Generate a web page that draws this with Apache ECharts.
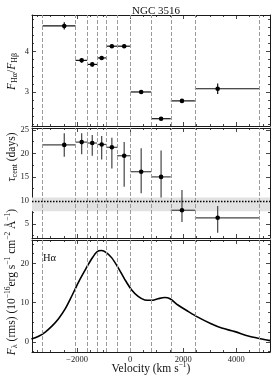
<!DOCTYPE html>
<html><head><meta charset="utf-8">
<script src="https://cdn.jsdelivr.net/npm/echarts@6/dist/echarts.min.js"></script>
<style>html,body{margin:0;padding:0;background:#fff}#c{width:274px;height:380px}</style>
</head><body><div id="c"></div>
<script>
// ---- data ----
const title = 'NGC 3516';
const binEdges = [-3300, -2060, -1620, -1250, -890, -490, 20, 790, 1530, 2440, 4870];
const binCenters = [-2484, -1828, -1429, -1074, -690, -226, 415, 1165, 1952, 3298];
const ratio = [4.63, 3.78, 3.68, 3.84, 4.13, 4.13, 3.00, 2.34, 2.78, 3.08];
const ratioErr = [0.09, 0.05, 0.05, 0.05, 0.04, 0.04, 0.05, 0.04, 0.04, 0.13];
const lag = [21.8, 22.4, 22.2, 21.9, 21.3, 19.5, 16.1, 15.0, 7.9, 6.3];
const lagErrHi = [2.5, 1.9, 1.7, 1.8, 2.0, 2.9, 5.0, 5.6, 4.3, 2.5];
const lagErrLo = [2.5, 2.6, 2.7, 3.2, 4.5, 6.6, 4.6, 4.4, 2.5, 3.2];
const contLag = 9.85, contLagLo = 7.7, contLagHi = 10.6;
const velocity = [-3720, -3450, -3200, -2950, -2700, -2450, -2200, -1950, -1700, -1450, -1250, -1080, -900, -700, -450, -200, 50, 300, 550, 800, 1050, 1300, 1500, 1800, 2200, 2550, 3050, 3450, 3950, 4450, 4900, 5270];
const flux = [0.7, 1.4, 2.5, 4.0, 5.9, 8.4, 11.7, 15.2, 18.3, 21.2, 23.0, 23.3, 22.8, 21.5, 18.9, 15.9, 13.3, 11.6, 10.7, 10.6, 11.0, 11.3, 11.0, 9.4, 7.7, 6.3, 4.6, 3.5, 2.6, 1.5, 0.8, 0.3];
const xTicks = [-2000, 0, 2000, 4000];

// ---- layout / style ----
const vMin = -3700, vMax = 5270;
const FONT = "'Liberation Serif', 'DejaVu Serif', serif";
const INK = '#1a1a1a';
const grids = [
  {left: 32, right: 4, top: 15, height: 111},
  {left: 32, right: 4, top: 128, height: 110},
  {left: 32, right: 4, top: 240, height: 112}
];
const yCfg = [
  {min: 2.16, max: 4.9, split: 2, minor: 5},
  {min: 2.0, max: 25.4, split: 5, minor: 2},
  {min: -2.6, max: 26, split: 3, minor: 4}
];
const fmt = v => v < 0 ? '\u2212' + Math.abs(v) : String(v);

function axisCommon(labels) {
  return {
    type: 'value',
    axisLine: {show: true, onZero: false, lineStyle: {color: INK, width: 1}},
    axisTick: {show: true, inside: true, length: 4, lineStyle: {color: INK, width: 0.8}},
    minorTick: {show: true, length: 2, lineStyle: {color: INK, width: 0.8}},
    splitLine: {show: false},
    axisLabel: {show: labels, showMinLabel: false, showMaxLabel: false, formatter: fmt,
      fontFamily: FONT, fontSize: 8.5, color: '#222', margin: 3}
  };
}
const xAxes = [], yAxes = [];
grids.forEach((g, i) => {
  ['bottom', 'top'].forEach(pos => {
    const a = axisCommon(i === 2 && pos === 'bottom');
    a.gridIndex = i; a.position = pos; a.min = vMin; a.max = vMax; a.splitNumber = 5;
    a.minorTick.splitNumber = 4;
    xAxes.push(a);
  });
  ['left', 'right'].forEach(pos => {
    const a = axisCommon(pos === 'left');
    a.gridIndex = i; a.position = pos; a.min = yCfg[i].min; a.max = yCfg[i].max;
    a.splitNumber = yCfg[i].split; a.minorTick.splitNumber = yCfg[i].minor;
    yAxes.push(a);
  });
});

function errRender(color) {
  return function (params, api) {
    const x = api.value(0), y = api.value(1);
    const pL = api.coord([api.value(2), y]), pR = api.coord([api.value(3), y]);
    const pB = api.coord([x, api.value(4)]), pT = api.coord([x, api.value(5)]);
    const c = api.coord([x, y]);
    const st = {stroke: color, lineWidth: 1.2};
    return {type: 'group', children: [
      {type: 'line', shape: {x1: pL[0], y1: pL[1], x2: pR[0], y2: pR[1]}, style: st},
      {type: 'line', shape: {x1: pB[0], y1: pB[1], x2: pT[0], y2: pT[1]}, style: st},
      {type: 'circle', shape: {cx: c[0], cy: c[1], r: 2.3}, style: {fill: '#000'}}
    ]};
  };
}
const ratioData = binCenters.map((x, i) => [x, ratio[i], binEdges[i], binEdges[i + 1], ratio[i] - ratioErr[i], ratio[i] + ratioErr[i]]);
const lagData = binCenters.map((x, i) => [x, lag[i], binEdges[i], binEdges[i + 1], lag[i] - lagErrLo[i], lag[i] + lagErrHi[i]]);
const edgeLines = {
  silent: true, symbol: ['none', 'none'], label: {show: false}, animation: false,
  lineStyle: {type: [4, 2], color: '#9a9a9a', width: 1},
  data: binEdges.map(v => ({xAxis: v}))
};

const series = [
  {type: 'custom', xAxisIndex: 0, yAxisIndex: 0, data: ratioData, renderItem: errRender('#111'),
    markLine: edgeLines, z: 3},
  {type: 'custom', xAxisIndex: 2, yAxisIndex: 2, data: lagData, renderItem: errRender('#444'),
    markLine: Object.assign({}, edgeLines), z: 3},
  {type: 'line', xAxisIndex: 2, yAxisIndex: 2, data: [], silent: true,
    markArea: {silent: true, itemStyle: {color: '#e2e2e2'}, data: [[{yAxis: contLagLo}, {yAxis: contLagHi}]]},
    markLine: {silent: true, symbol: ['none', 'none'], label: {show: false}, animation: false,
      lineStyle: {type: [1.5, 1.5], color: '#000', width: 1.3}, data: [{yAxis: contLag}]}, z: 1},
  {type: 'line', xAxisIndex: 4, yAxisIndex: 4, data: velocity.map((v, i) => [v, flux[i]]),
    smooth: 0.3, showSymbol: false, lineStyle: {color: '#000', width: 1.6},
    markLine: Object.assign({}, edgeLines), z: 3}
];

const sub = {fontSize: 8, lineHeight: 6, verticalAlign: 'bottom', fontFamily: FONT, fill: '#111'};
const sup = {fontSize: 7.5, lineHeight: 6, verticalAlign: 'top', fontFamily: FONT, fill: '#111'};
const it = {fontStyle: 'italic', fontSize: 11.5, lineHeight: 15, fontFamily: FONT, fill: '#111'};
const rm = {fontSize: 11.5, lineHeight: 15, fontFamily: FONT, fill: '#111'};
function vtext(x, y, text) {
  return {type: 'text', x: x, y: y, rotation: Math.PI / 2, silent: true,
    style: {text: text, align: 'center', verticalAlign: 'middle', fontSize: 11.5, fontFamily: FONT, fill: '#111',
      rich: {sub: sub, sup: sup, it: it, rm: rm}}};
}

const chart = echarts.init(document.getElementById('c'), null, {renderer: 'canvas'});
chart.setOption({
  animation: false,
  backgroundColor: '#fff',
  title: {text: title, left: 151, top: 1, textAlign: 'center',
    textStyle: {fontFamily: FONT, fontSize: 11, fontWeight: 'normal', color: '#111'}},
  grid: grids,
  xAxis: xAxes,
  yAxis: yAxes,
  series: series,
  graphic: [
    vtext(11.5, 71.5, '{it|F}{sub|Hα}{rm|/}{it|F}{sub|Hβ}'),
    vtext(11.5, 157, '{it|τ}{sub|cent}{rm| (days)}'),
    vtext(11.5, 282, '{it|F}{sub|λ}{rm| (rms) (10}{sup|\u221216}{rm|erg s}{sup|\u22121}{rm| cm}{sup|\u22122}{rm| Å}{sup|\u22121}{rm|)}'),
    {type: 'text', x: 151, y: 369, silent: true,
      style: {text: '{rm|Velocity (km s}{sup|\u22121}{rm|)}', align: 'center', verticalAlign: 'middle',
        fontFamily: FONT, fontSize: 11.5, fill: '#111', rich: {rm: rm, sup: sup}}},
    {type: 'text', x: 43, y: 258, silent: true,
      style: {text: 'Hα', align: 'left', verticalAlign: 'middle', fontFamily: FONT, fontSize: 10.5, fill: '#111'}}
  ]
});
</script></body></html>
